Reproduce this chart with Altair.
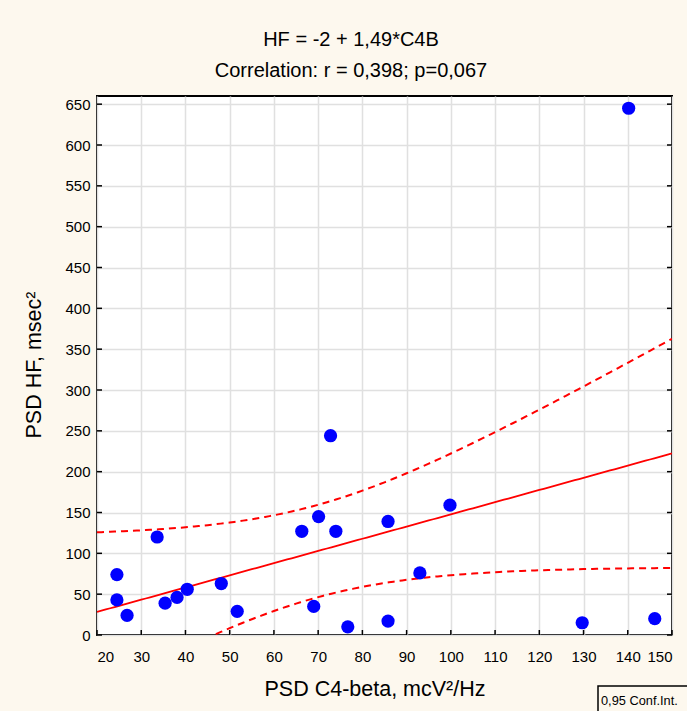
import altair as alt
import pandas as pd
import numpy as np

# ---- data ----
x_vals = [24.5, 24.5, 26.8, 33.6, 35.4, 38.1, 40.4, 48.1, 51.7, 66.3, 70.1,
          72.8, 74.0, 69.0, 76.7, 85.8, 85.8, 93.0, 99.8, 129.7, 140.2, 146.1]
y_vals = [74, 43, 24, 120, 39, 46, 56, 63, 29, 127, 145,
          244, 127, 35, 10, 139, 17, 76, 159, 15, 645, 20]
x_ticks = list(range(20, 151, 10))
y_ticks = list(range(0, 651, 50))
title_lines = ["HF = -2 + 1,49*C4B", "Correlation: r = 0,398; p=0,067"]
x_title = "PSD C4-beta, mcV²/Hz"
y_title = "PSD HF, msec²"
legend_label = "0,95 Conf.Int."
t_crit = 2.086  # t(0.975, df=20)

W, H = 575, 539
FONT = "Liberation Sans"

pts = pd.DataFrame({"x": x_vals, "y": y_vals})

# regression + 95% confidence band computed from the points
xa = np.array(x_vals, dtype=float)
ya = np.array(y_vals, dtype=float)
n = len(xa)
slope, intercept = np.polyfit(xa, ya, 1)
resid = ya - (intercept + slope * xa)
s = np.sqrt((resid ** 2).sum() / (n - 2))
xbar = xa.mean()
sxx = ((xa - xbar) ** 2).sum()
grid = np.linspace(20, 150, 131)
fit = intercept + slope * grid
half = t_crit * s * np.sqrt(1.0 / n + (grid - xbar) ** 2 / sxx)
fit_df = pd.DataFrame({"x": grid, "y": fit})
band_df = pd.concat([
    pd.DataFrame({"x": grid, "y": fit + half, "band": "upper"}),
    pd.DataFrame({"x": grid, "y": fit - half, "band": "lower"}),
])

xs = alt.Scale(domain=[20, 150], nice=False, zero=False)
ys = alt.Scale(domain=[0, 660], nice=False, zero=False)

x_axis = alt.Axis(values=x_ticks, labelFontSize=15, labelPadding=14, labelColor="black",
                  labelFont=FONT, title=None)
y_axis = alt.Axis(values=y_ticks, labelFontSize=15, labelPadding=7, labelColor="black",
                  labelFont=FONT, title=None)

points = alt.Chart(pts).mark_circle(size=175, color="#0000FF", opacity=1).encode(
    x=alt.X("x:Q", scale=xs, axis=x_axis),
    y=alt.Y("y:Q", scale=ys, axis=y_axis),
)

line = alt.Chart(fit_df).mark_line(color="#FF0000", strokeWidth=1.8, clip=True).encode(
    x=alt.X("x:Q", scale=xs), y=alt.Y("y:Q", scale=ys)
)

bands = alt.Chart(band_df).mark_line(color="#FF0000", strokeWidth=2, strokeDash=[7, 5],
                                      clip=True).encode(
    x=alt.X("x:Q", scale=xs), y=alt.Y("y:Q", scale=ys), detail="band:N"
)

yt = pd.DataFrame({"v": y_ticks})
xt = pd.DataFrame({"v": x_ticks})
left_ticks = alt.Chart(yt).mark_rule(color="black", strokeWidth=1.5).encode(
    y=alt.Y("v:Q", scale=ys), x=alt.value(0), x2=alt.value(5))
right_ticks = alt.Chart(yt).mark_rule(color="black", strokeWidth=1.5).encode(
    y=alt.Y("v:Q", scale=ys), x=alt.value(W - 5), x2=alt.value(W))
bottom_ticks = alt.Chart(xt).mark_rule(color="black", strokeWidth=1.5).encode(
    x=alt.X("v:Q", scale=xs), y=alt.value(H - 5), y2=alt.value(H))

def txt(label, px, py, size, angle=0, align="center"):
    return alt.Chart(pd.DataFrame({"t": [label]})).mark_text(
        fontSize=size, font=FONT, color="black", angle=angle,
        align=align, baseline="middle").encode(
        text="t:N", x=alt.value(px), y=alt.value(py))

t1 = txt(title_lines[0], 254, -56, 20)
t2 = txt(title_lines[1], 254, -25, 20)
xt_title = txt(x_title, 278, 594, 21.5)
yt_title = txt(y_title, -62, 269, 21.5, angle=270)

legend_box = alt.Chart(pd.DataFrame({"a": [0]})).mark_rect(
    fill="#FDF8EE", stroke="black", strokeWidth=1.5).encode(
    x=alt.value(501), x2=alt.value(620), y=alt.value(590), y2=alt.value(625))
legend_text = txt(legend_label, 504, 605, 12.8, align="left")

chart = alt.layer(
    bands, line, points, left_ticks, right_ticks, bottom_ticks,
    t1, t2, xt_title, yt_title, legend_box, legend_text
).properties(
    width=W, height=H,
    autosize=alt.AutoSizeParams(type="none"),
    padding={"left": 97, "top": 96, "right": 15, "bottom": 76},
    background="#FDF8EE",
).configure_view(
    stroke="black", strokeWidth=2, fill="white"
).configure_axis(
    domain=False, ticks=False, grid=True, gridColor="#E0E0E0", gridWidth=1.5
)

chart.save("out.html", embed_options={"renderer": "svg", "actions": False})
